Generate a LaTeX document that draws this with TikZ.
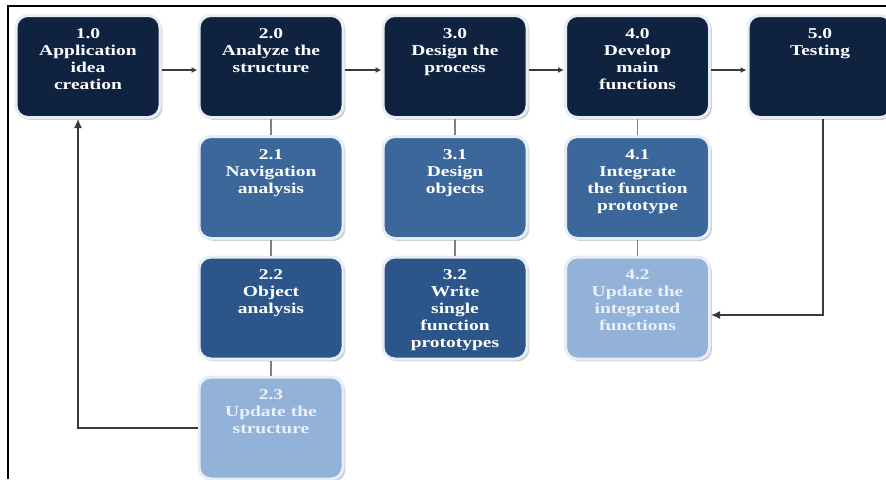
\documentclass[tikz,border=0pt]{standalone}
\usepackage{fontspec}
\setmainfont{Liberation Serif}[FakeStretch=1.3]
\usetikzlibrary{arrows.meta,shadows}
\definecolor{navy}{HTML}{0F2341}
\definecolor{midblue}{HTML}{3C679B}
\definecolor{deepblue}{HTML}{2C568A}
\definecolor{paleblue}{HTML}{93B2D8}
\definecolor{paletext}{HTML}{EAF1FA}
\definecolor{ringcol}{HTML}{E6EDF5}
\definecolor{linkcol}{HTML}{3A3A3A}
\newcommand{\steptext}[1]{\parbox[c][38pt][t]{70pt}{\centering\bfseries #1}}
\tikzset{
  stepbox/.style={draw=ringcol, line width=1.5pt, rounded corners=6pt,
    minimum width=72pt, minimum height=51pt, inner sep=0pt, text=white,
    font=\fontsize{7.5}{8.5}\selectfont,
    drop shadow={shadow xshift=1.2pt, shadow yshift=-1.2pt, fill=black!40}},
  mainbox/.style={stepbox, fill=navy},
  subbox/.style={stepbox, fill=midblue},
  deepbox/.style={stepbox, fill=deepblue},
  palebox/.style={stepbox, fill=paleblue, text=paletext},
  flow/.style={draw=linkcol, line width=0.6pt, -{Latex[length=3pt,width=3pt]}},
  link/.style={draw=gray, line width=0.6pt},
  back/.style={draw=linkcol, line width=0.7pt, -{Latex[length=4.5pt,width=4pt]}}
}
\begin{document}
\begin{tikzpicture}[x=0.5pt,y=-0.5pt]
  \useasboundingbox (0,0) rectangle (886,479);
  \draw[line width=0.8pt] (8,479) -- (8,6) -- (886,6);
  % top row
  \node[mainbox] (n10) at (88,66.5) {\steptext{1.0\\Application\\idea\\creation}};
  \node[mainbox] (n20) at (271,66.5) {\steptext{2.0\\Analyze the\\structure}};
  \node[mainbox] (n30) at (455,66.5) {\steptext{3.0\\Design the\\process}};
  \node[mainbox] (n40) at (637.5,66.5) {\steptext{4.0\\Develop\\main\\functions}};
  \node[mainbox] (n50) at (820,66.5) {\steptext{5.0\\Testing}};
  % sub steps
  \node[subbox] (n21) at (271,187.5) {\steptext{2.1\\Navigation\\analysis}};
  \node[deepbox] (n22) at (271,308) {\steptext{2.2\\Object\\analysis}};
  \node[palebox] (n23) at (271,428) {\steptext{2.3\\Update the\\structure}};
  \node[subbox] (n31) at (455,187.5) {\steptext{3.1\\Design\\objects}};
  \node[deepbox] (n32) at (455,308) {\steptext{3.2\\Write\\single\\function\\prototypes}};
  \node[subbox] (n41) at (637.5,187.5) {\steptext{4.1\\Integrate\\the function\\prototype}};
  \node[palebox] (n42) at (637.5,308) {\steptext{4.2\\Update the\\integrated\\functions}};
  % connectors
  \draw[flow] ([yshift=-1.75pt]n10.east) -- ([yshift=-1.75pt]n20.west);
  \draw[flow] ([yshift=-1.75pt]n20.east) -- ([yshift=-1.75pt]n30.west);
  \draw[flow] ([yshift=-1.75pt]n30.east) -- ([yshift=-1.75pt]n40.west);
  \draw[flow] ([yshift=-1.75pt]n40.east) -- ([yshift=-1.75pt]n50.west);
  \draw[link] (n20) -- (n21) -- (n22) -- (n23);
  \draw[link] (n30) -- (n31) -- (n32);
  \draw[link] (n40) -- (n41) -- (n42);
  \draw[back] (n23.west) -| ([xshift=-5pt]n10.south);
  \draw[back] ([xshift=1.5pt]n50.south) |- ([yshift=-3.5pt]n42.east);
\end{tikzpicture}
\end{document}
